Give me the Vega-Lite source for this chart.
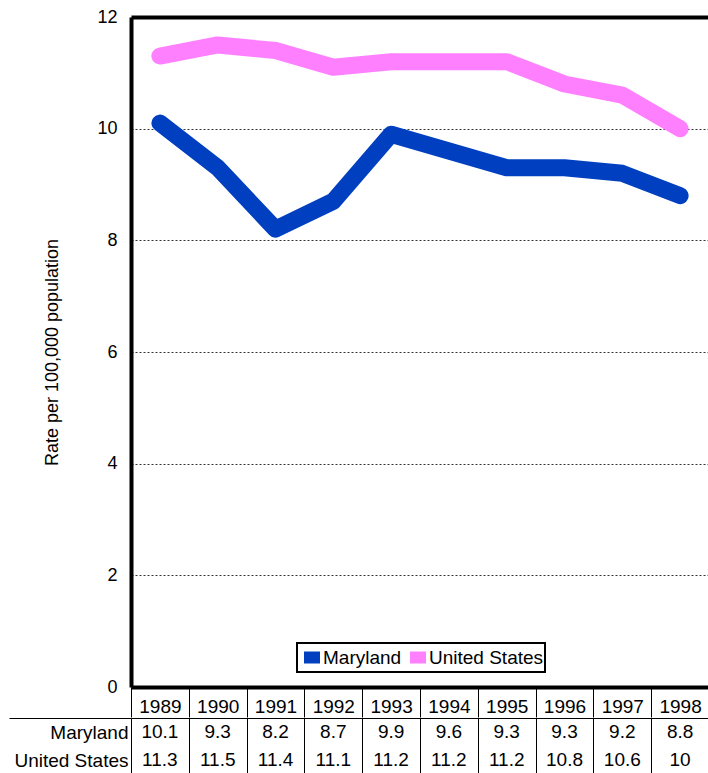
{
  "$schema": "https://vega.github.io/schema/vega-lite/v6.json",
  "padding": {"left": 8, "top": 8, "right": 0, "bottom": 0},
  "autosize": {"type": "pad"},
  "config": {
    "font": "Liberation Sans",
    "view": {"stroke": null},
    "axis": {"labelFont": "Liberation Sans", "titleFont": "Liberation Sans", "labelColor": "black", "titleColor": "black", "minExtent": 0},
    "legend": {"labelFont": "Liberation Sans", "strokeWidth": 2}
  },
  "datasets": {
    "rates": [
      {"year": "1989", "series": "Maryland", "value": 10.1},
      {"year": "1990", "series": "Maryland", "value": 9.3},
      {"year": "1991", "series": "Maryland", "value": 8.2},
      {"year": "1992", "series": "Maryland", "value": 8.7},
      {"year": "1993", "series": "Maryland", "value": 9.9},
      {"year": "1994", "series": "Maryland", "value": 9.6},
      {"year": "1995", "series": "Maryland", "value": 9.3},
      {"year": "1996", "series": "Maryland", "value": 9.3},
      {"year": "1997", "series": "Maryland", "value": 9.2},
      {"year": "1998", "series": "Maryland", "value": 8.8},
      {"year": "1989", "series": "United States", "value": 11.3},
      {"year": "1990", "series": "United States", "value": 11.5},
      {"year": "1991", "series": "United States", "value": 11.4},
      {"year": "1992", "series": "United States", "value": 11.1},
      {"year": "1993", "series": "United States", "value": 11.2},
      {"year": "1994", "series": "United States", "value": 11.2},
      {"year": "1995", "series": "United States", "value": 11.2},
      {"year": "1996", "series": "United States", "value": 10.8},
      {"year": "1997", "series": "United States", "value": 10.6},
      {"year": "1998", "series": "United States", "value": 10}
    ]
  },
  "spacing": -10,
  "vconcat": [
    {
      "width": 578,
      "height": 670,
      "data": {"name": "rates"},
      "layer": [
        {
          "mark": {"type": "line", "strokeWidth": 17, "strokeCap": "round", "strokeJoin": "round"},
          "encoding": {
            "x": {
              "field": "year", "type": "ordinal",
              "scale": {"type": "band", "paddingInner": 0, "paddingOuter": 0},
              "axis": {"title": null, "labelAngle": 0, "labelFontSize": 19, "labelBaseline": "middle", "labelPadding": -11,
                       "tickBand": "extent", "tickSize": 30, "tickColor": "black", "tickWidth": 1,
                       "domainColor": "black", "domainWidth": 4, "grid": false}
            },
            "y": {
              "field": "value", "type": "quantitative",
              "scale": {"domain": [0, 12], "nice": false},
              "axis": {"values": [0, 2, 4, 6, 8, 10, 12], "title": "Rate per 100,000 population",
                       "titleFontSize": 18, "titleFontWeight": "normal", "titlePadding": 35,
                       "labelFontSize": 18, "labelPadding": 14, "ticks": false,
                       "domainColor": "black", "domainWidth": 4, "grid": true,
                       "gridColor": "#333333", "gridDash": [2, 2], "gridWidth": 1}
            },
            "color": {
              "field": "series", "type": "nominal",
              "scale": {"domain": ["Maryland", "United States"], "range": ["#0040C0", "#FF80FF"]},
              "legend": {"title": null, "orient": "none", "legendX": 166, "legendY": 626, "direction": "horizontal",
                         "strokeColor": "black", "padding": 1, "fillColor": "white", "gridAlign": "each",
                         "clipHeight": 27,
                         "labelFontSize": 19, "labelColor": "black", "symbolType": "stroke", "symbolSize": 256,
                         "symbolStrokeWidth": 12, "labelOffset": -3, "columnPadding": 2}
            }
          }
        },
        {
          "mark": {"type": "text", "opacity": 0},
          "encoding": {
            "x": {
              "field": "year", "type": "ordinal",
              "axis": {"orient": "top", "title": null, "labels": false, "ticks": false, "domain": true,
                       "domainColor": "black", "domainWidth": 4, "grid": false}
            },
            "text": {"field": "value", "type": "nominal"}
          }
        }
      ],
      "resolve": {"axis": {"x": "independent"}}
    },
    {
      "width": 578,
      "height": 56,
      "data": {"name": "rates"},
      "layer": [
        {
          "mark": {"type": "text", "fontSize": 19, "color": "black"},
          "encoding": {
            "x": {
              "field": "year", "type": "ordinal",
              "scale": {"type": "band", "paddingInner": 0, "paddingOuter": 0},
              "axis": {"orient": "top", "title": null, "labels": false, "ticks": false, "domain": true,
                       "domainColor": "black", "domainWidth": 1, "grid": true, "gridColor": "black",
                       "gridWidth": 1, "tickBand": "extent"}
            },
            "y": {
              "field": "series", "type": "nominal",
              "scale": {"paddingInner": 0, "paddingOuter": 0},
              "axis": {"title": null, "labelFontSize": 19, "labelPadding": -119, "labelColor": "black",
                       "tickBand": "extent", "tickSize": 122, "tickColor": "black", "tickWidth": 1,
                       "tickOpacity": {"condition": {"test": "datum.extra", "value": 1}, "value": 0},
                       "domain": false, "grid": false}
            },
            "text": {"field": "value", "type": "nominal"}
          }
        },
        {
          "mark": {"type": "text", "opacity": 0},
          "encoding": {
            "y": {
              "field": "series", "type": "nominal",
              "axis": {"title": null, "labels": false, "ticks": false, "domain": true, "domainColor": "black",
                       "domainWidth": 1, "offset": 122, "grid": false}
            },
            "text": {"field": "value", "type": "nominal"}
          }
        }
      ],
      "resolve": {"axis": {"y": "independent"}}
    }
  ]
}
